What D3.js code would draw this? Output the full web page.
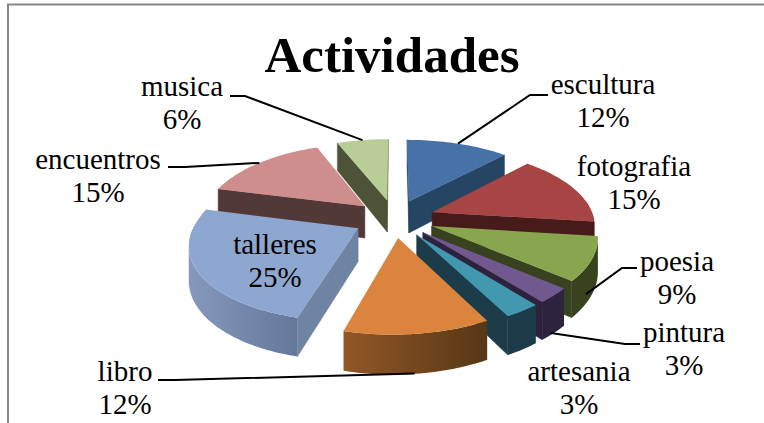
<!DOCTYPE html>
<html lang="es">
<head>
<meta charset="utf-8" />
<title>Actividades</title>
<script src="https://d3js.org/d3.v7.min.js"></script>
<style>
    html, body { margin: 0; padding: 0; background: #fff; overflow: hidden; }
    text { font-family: "Liberation Serif", serif; fill: #000; }
</style>
</head>
<body>
<script>
    var categories = ["escultura", "fotografia", "poesia", "pintura", "artesania", "libro", "talleres", "encuentros", "musica"];
    var values = [12, 15, 9, 3, 3, 12, 25, 15, 6];

    var topColors = ["#4672a8", "#a64543", "#89a54e", "#71588f", "#4198af", "#db843d", "#8ea7d0", "#ce8e8d", "#b9cd96"];
    var edgeColors = ["#254563", "#471b19", "#38421f", "#2e233f", "#1b3c48", "#5b3a16", "#6f83a3", "#533838", "#4e5338"];
    var wallLeft = ["#254563", "#471b19", "#38421f", "#2e233f", "#1b3c48", "#925727", "#8698bc", "#533838", "#4e5338"];
    var wallRight = ["#254563", "#471b19", "#38421f", "#2e233f", "#1b3c48", "#573715", "#64789a", "#533838", "#4e5338"];

    var w = 764;
    var h = 423;

    // pie geometry, fitted to the picture
    var cx = 394.5, cy = 218.5;
    var rx = 162, ry = 75.6;
    var explode = 0.25;
    var persp = 0.15; // how much the far side shrinks
    var shear = 6.5;  // the near half leans a bit to the left
    var depth = 32.5;

    // label placement: x centre, first baseline; leader = start and elbow of line
    var labelX = [603, 634, 677, 684, 579, 125, 275, 98, 182];
    var labelY = [94, 176, 271, 342, 381, 381, 254, 169, 96];
    var leaders = [
        { from: [548, 95], elbow: [530, 95], onWall: false },
        null,
        { from: [637, 268], elbow: [622, 268], onWall: true, shift: -6 },
        { from: [640, 344], elbow: [625, 344], onWall: true, shift: -3 },
        null,
        { from: [158, 380], elbow: [175, 380], onWall: true, shift: -3 },
        null,
        { from: [168, 167], elbow: [185, 167], onWall: false },
        { from: [230, 96], elbow: [245, 96], onWall: false }
    ];

    var svg = d3.select("body")
        .append("svg")
        .attr("width", w)
        .attr("height", h)
        .style("display", "block");

    // frame of the chart area, cut by the window on the right and bottom
    svg.append("path")
        .attr("d", "M8," + h + "V4.5H" + w)
        .attr("fill", "none")
        .attr("stroke", "#868686")
        .attr("stroke-width", 2);

    var pie = d3.pie().sort(null).value(function(d) { return d; });
    var slices = pie(values).map(function(d, i) {
        d.index = i;
        d.mid = (d.startAngle + d.endAngle) / 2;
        return d;
    });

    // plane position around the slice's own exploded centre -> screen [x, y, scale]
    function project(s, angle, radius) {
        var a = explode * Math.sin(s.mid) + radius * Math.sin(angle);
        var b = explode * Math.cos(s.mid) + radius * Math.cos(angle);
        var p = 1 / (1 + persp * b);
        return [cx + a * rx * p + shear * Math.min(b, 0), cy - b * ry * p, p];
    }

    function arcPoints(s) {
        var n = Math.max(6, Math.ceil((s.endAngle - s.startAngle) * 40));
        return d3.range(n + 1).map(function(k) {
            return project(s, s.startAngle + (s.endAngle - s.startAngle) * k / n, 1);
        });
    }

    function down(pt) {
        return [pt[0], pt[1] + depth * pt[2], pt[2]];
    }

    var line = d3.line();
    var defs = svg.append("defs");

    slices.forEach(function(s) {
        var g = defs.append("linearGradient").attr("id", "wall" + s.index);
        g.append("stop").attr("offset", 0).attr("stop-color", wallLeft[s.index]);
        g.append("stop").attr("offset", 1).attr("stop-color", wallRight[s.index]);
    });

    // far slices first
    var order = slices.slice().sort(function(p, q) {
        return d3.descending(Math.cos(p.mid), Math.cos(q.mid));
    });

    order.forEach(function(s) {
        var g = svg.append("g");
        var i = s.index;
        var apex = project(s, 0, 0);
        var arc = arcPoints(s);
        var first = arc[0], last = arc[arc.length - 1];

        // a wall shows when the clockwise outline runs leftwards on screen
        var run = [];
        arc.forEach(function(pt, k) {
            var next = arc[k + 1];
            if (next && next[0] < pt[0]) {
                if (!run.length) run.push(pt);
                run.push(next);
            }
        });
        if (run.length) {
            g.append("path")
                .attr("d", line(run.concat(run.slice().reverse().map(down))) + "Z")
                .attr("fill", "url(#wall" + i + ")");
        }
        [[apex, first], [last, apex]].forEach(function(e) {
            if (e[1][0] < e[0][0]) {
                g.append("path")
                    .attr("d", line([e[0], e[1], down(e[1]), down(e[0])]) + "Z")
                    .attr("fill", edgeColors[i])
                    .attr("stroke", edgeColors[i])
                    .attr("stroke-width", 0.5);
            }
        });

        g.append("path")
            .attr("d", line([apex].concat(arc)) + "Z")
            .attr("fill", topColors[i]);
    });

    // leader lines end at the middle of each slice's arc
    slices.forEach(function(s) {
        var l = leaders[s.index];
        if (!l) return;
        var end = project(s, s.mid, 1);
        if (l.onWall) {
            end = down(end);
            end[0] += l.shift;
        }
        svg.append("path")
            .attr("d", line([l.from, l.elbow, end]))
            .attr("fill", "none")
            .attr("stroke", "#000")
            .attr("stroke-width", 2);
    });

    var total = d3.sum(values);
    categories.forEach(function(name, i) {
        var t = svg.append("text")
            .attr("text-anchor", "middle")
            .attr("font-size", 29);
        t.append("tspan").attr("x", labelX[i]).attr("y", labelY[i]).text(name);
        t.append("tspan").attr("x", labelX[i]).attr("y", labelY[i] + 32.5)
            .text(Math.round(values[i] / total * 100) + "%");
    });

    svg.append("text")
        .attr("x", 392)
        .attr("y", 72)
        .attr("text-anchor", "middle")
        .attr("font-size", 51)
        .attr("font-weight", "bold")
        .text("Actividades");
</script>
</body>
</html>
